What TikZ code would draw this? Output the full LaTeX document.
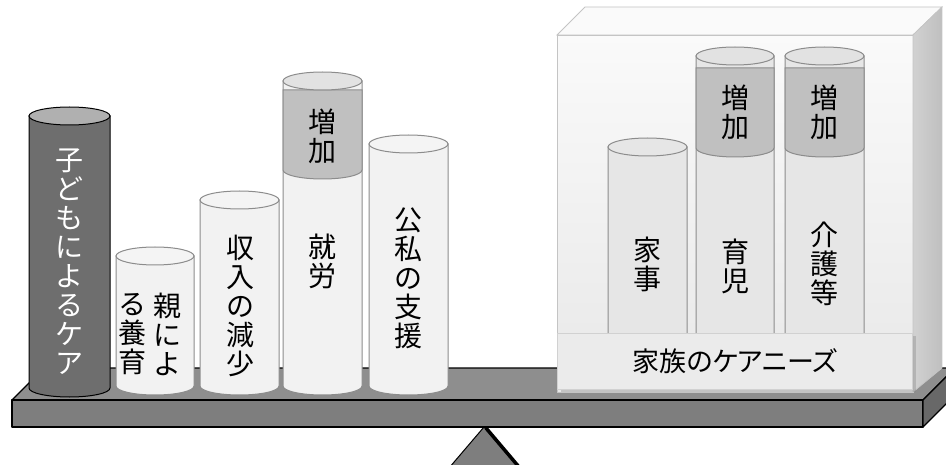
\documentclass[tikz,border=0pt]{standalone}
\usepackage{fontspec}
\newfontfamily\jp{Noto Sans CJK JP}
\newfontfamily\jpp[RawFeature=+palt]{Noto Sans CJK JP}
\usetikzlibrary{shadows}
\definecolor{cylfill}{HTML}{F2F2F2}
\definecolor{cyltop}{HTML}{F4F4F4}
\definecolor{cyldraw}{HTML}{8C8C8C}
\definecolor{capfill}{HTML}{C0C0C0}
\definecolor{captop}{HTML}{E2E2E2}
\definecolor{darkfill}{HTML}{6E6E6E}
\definecolor{darktop}{HTML}{B0B0B0}
\definecolor{boxcyl}{HTML}{E6E6E6}
\definecolor{beamtop}{HTML}{8E8E8E}
\definecolor{beamfront}{HTML}{7E7E7E}
\definecolor{beamside}{HTML}{686868}
\definecolor{boxline}{HTML}{C4C4C4}
\newcommand{\cylbody}[6]{% x0 x1 ytop ybot fill draw
  \pgfmathsetmacro{\cylrx}{(#2-#1)/2}%
  \filldraw[draw=#6, fill=#5, line width=1pt] (#1,#3) -- (#1,#4) arc[start angle=180, end angle=0, x radius=\cylrx, y radius=9] -- (#2,#3) -- cycle;
}
\newcommand{\cylcap}[3]{% x0 x1 ymid
  \pgfmathsetmacro{\cylrx}{(#2-#1)/2}%
  \filldraw[draw=cyldraw, fill=capfill, line width=1pt] (#1,#3-80) -- (#1,#3) arc[start angle=180, end angle=0, x radius=\cylrx, y radius=9] -- (#2,#3-80) -- cycle;
}
\newcommand{\cyltop}[5]{% x0 x1 ytop fill draw
  \pgfmathsetmacro{\cylrx}{(#2-#1)/2}%
  \pgfmathsetmacro{\cylcx}{(#1+#2)/2}%
  \filldraw[draw=#5, fill=#4, line width=1pt] (\cylcx,#3) ellipse[x radius=\cylrx, y radius=9];
}
\begin{document}
\begin{tikzpicture}[x=1pt,y=-1pt,
  vtext/.style={font=\jp\fontsize{28}{29}\selectfont, align=center, inner sep=0pt, text=black},
  beamline/.style={draw=black, line width=1.3pt, line join=round}]
\clip (0,0) rectangle (946,465);
\fill[white] (0,0) rectangle (946,465);
% beam top face
\filldraw[beamline, fill=beamtop] (12,400) -- (44,368) -- (955,368) -- (923,400) -- cycle;
% beam front and side
\filldraw[beamline, fill=beamfront] (12,400) rectangle (923,427);
\filldraw[beamline, fill=beamside] (923,400) -- (955,368) -- (955,395) -- (923,427) -- cycle;
% fulcrum
\filldraw[draw=black, line width=1pt, fill=beamfront] (484,427) -- (449,468) -- (519,468) -- cycle;
\draw[black, line width=3.5pt] (486,428) -- (519,467);
% left cylinders
\cylbody{29}{110}{116}{388}{darkfill}{black}
\cyltop{29}{110}{116}{darktop}{black}
\cylbody{116}{194}{256}{386}{cylfill}{cyldraw}
\cyltop{116}{194}{256}{cyltop}{cyldraw}
\cylbody{200}{279}{200}{386}{cylfill}{cyldraw}
\cyltop{200}{279}{200}{cyltop}{cyldraw}
\cylbody{283}{362}{81}{386}{cylfill}{cyldraw}
\cylcap{283}{362}{170}
\cyltop{283}{362}{81}{captop}{cyldraw}
\cylbody{369}{448}{144}{386}{cylfill}{cyldraw}
\cyltop{369}{448}{144}{cyltop}{cyldraw}
% right box
\shade[top color=white!98!black, bottom color=white!91!black, draw=boxline, line width=0.8pt] (557,35) rectangle (913,392);
\filldraw[draw=boxline, fill=white!98!black, line width=0.8pt] (557,35) -- (585,7) -- (942,7) -- (913,35) -- cycle;
\shade[left color=white!82!black, right color=white!75!black, draw=boxline, line width=0.8pt] (913,35) -- (942,7) -- (942,368) -- (913,392) -- cycle;
% box cylinders
\cylbody{608}{687}{147}{345}{boxcyl}{cyldraw}
\cyltop{608}{687}{147}{boxcyl}{cyldraw}
\cylbody{696}{774}{56}{345}{boxcyl}{cyldraw}
\cylcap{696}{774}{148}
\cyltop{696}{774}{56}{captop}{cyldraw}
\cylbody{785}{864}{56}{345}{boxcyl}{cyldraw}
\cylcap{785}{864}{148}
\cyltop{785}{864}{56}{captop}{cyldraw}
% label box
\node[draw=white!82!black, fill=white!92!black, line width=0.8pt,
  drop shadow={opacity=0.35, shadow xshift=3pt, shadow yshift=-3pt},
  minimum width=355pt, minimum height=56pt, inner sep=0pt,
  font=\jpp\fontsize{27}{29}\selectfont] (needs) at (735,361) {家族のケアニーズ};
% texts
\node[vtext, text=white] (kodomo) at (70,262) {子\\ど\\も\\に\\よ\\る\\ケ\\ア};
\node[vtext] (oya1) at (167,334) {親\\に\\よ};
\node[vtext] (oya2) at (132,334) {る\\養\\育};
\node[vtext] (shunyu) at (240,306) {収\\入\\の\\減\\少};
\node[vtext] (shuro) at (322,261) {就\\労};
\node[vtext] (zoka1) at (322,136) {増\\加};
\node[vtext] (koshi) at (408,278) {公\\私\\の\\支\\援};
\node[vtext] (kaji) at (647,264) {家\\事};
\node[vtext] (ikuji) at (735,266) {育\\児};
\node[vtext] (kaigo) at (824,264) {介\\護\\等};
\node[vtext] (zoka2) at (735,112) {増\\加};
\node[vtext] (zoka3) at (824,112) {増\\加};
\end{tikzpicture}
\end{document}
